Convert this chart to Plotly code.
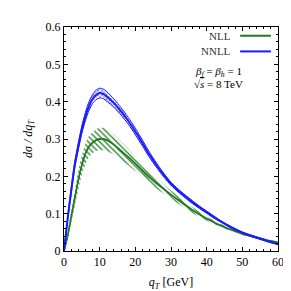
import plotly.graph_objects as go

q_t = [0, 1, 2, 3, 4, 5, 6, 7, 8, 9, 10, 11, 12, 14, 16, 18, 20, 22, 24, 26, 28,
       30, 32, 34, 36, 38, 40, 42, 44, 46, 48, 50, 52, 54, 56, 58, 60]

nll_central = [0, 0.04, 0.09, 0.14, 0.19, 0.23, 0.26, 0.28, 0.29, 0.297, 0.30, 0.30, 0.297,
               0.285, 0.268, 0.252, 0.234, 0.215, 0.197, 0.181, 0.166, 0.151, 0.137, 0.123,
               0.110, 0.098, 0.087, 0.077, 0.068, 0.060, 0.053, 0.046, 0.041, 0.036, 0.031,
               0.027, 0.023]
nll_lo = [0, 0.03, 0.075, 0.12, 0.165, 0.205, 0.232, 0.252, 0.262, 0.268, 0.27, 0.27, 0.268,
          0.258, 0.243, 0.23, 0.214, 0.197, 0.181, 0.167, 0.154, 0.140, 0.127, 0.114,
          0.102, 0.091, 0.081, 0.072, 0.064, 0.056, 0.050, 0.043, 0.038, 0.034, 0.029,
          0.025, 0.021]
nll_hi = [0, 0.05, 0.105, 0.16, 0.215, 0.255, 0.288, 0.308, 0.318, 0.326, 0.33, 0.33, 0.326,
          0.312, 0.293, 0.274, 0.254, 0.233, 0.213, 0.195, 0.178, 0.162, 0.147, 0.132,
          0.118, 0.105, 0.093, 0.082, 0.072, 0.064, 0.056, 0.049, 0.044, 0.038, 0.033,
          0.029, 0.025]

nnll_central = [0, 0.085, 0.16, 0.23, 0.28, 0.325, 0.36, 0.388, 0.407, 0.418, 0.423, 0.421, 0.414,
                0.396, 0.374, 0.349, 0.32, 0.289, 0.257, 0.229, 0.203, 0.180, 0.162, 0.146,
                0.131, 0.117, 0.104, 0.091, 0.079, 0.068, 0.058, 0.049, 0.042, 0.036, 0.030,
                0.024, 0.019]
nnll_lo = [0, 0.081, 0.153, 0.222, 0.271, 0.315, 0.349, 0.376, 0.395, 0.405, 0.410, 0.408, 0.401,
           0.385, 0.364, 0.340, 0.311, 0.281, 0.250, 0.223, 0.198, 0.176, 0.158, 0.142,
           0.127, 0.114, 0.101, 0.088, 0.077, 0.066, 0.056, 0.047, 0.040, 0.034, 0.028,
           0.022, 0.017]
nnll_hi = [0, 0.089, 0.167, 0.238, 0.289, 0.335, 0.371, 0.400, 0.419, 0.431, 0.436, 0.434, 0.427,
           0.407, 0.384, 0.358, 0.329, 0.297, 0.264, 0.235, 0.208, 0.184, 0.166, 0.150,
           0.135, 0.120, 0.107, 0.094, 0.081, 0.070, 0.060, 0.051, 0.044, 0.038, 0.032,
           0.026, 0.021]

GREEN = "#1f7a1f"
BLUE = "#1a1aff"
FONT = "Liberation Serif"

fig = go.Figure()

# NLL band (hatched)
fig.add_trace(go.Scatter(x=q_t, y=nll_lo, mode="lines", line=dict(width=0, shape="spline", smoothing=0.6),
                         showlegend=False, hoverinfo="skip"))
fig.add_trace(go.Scatter(x=q_t, y=nll_hi, mode="lines", line=dict(width=0, shape="spline", smoothing=0.6),
                         fill="tonexty", fillcolor="rgba(255,255,255,0)",
                         fillpattern=dict(shape="\\", fgcolor=GREEN, fgopacity=1,
                                          bgcolor="rgba(255,255,255,0)",
                                          size=4, solidity=0.3),
                         showlegend=False, hoverinfo="skip"))
# NNLL band (cross-hatched)
fig.add_trace(go.Scatter(x=q_t, y=nnll_lo, mode="lines",
                         line=dict(width=1, color=BLUE, shape="spline", smoothing=0.6),
                         showlegend=False, hoverinfo="skip"))
fig.add_trace(go.Scatter(x=q_t, y=nnll_hi, mode="lines",
                         line=dict(width=1, color=BLUE, shape="spline", smoothing=0.6),
                         fill="tonexty", fillcolor="rgba(255,255,255,0)",
                         fillpattern=dict(shape="x", fgcolor=BLUE, fgopacity=1,
                                          bgcolor="rgba(255,255,255,0)",
                                          size=3, solidity=0.3),
                         showlegend=False, hoverinfo="skip"))

fig.add_trace(go.Scatter(x=q_t, y=nll_central, mode="lines", name="NLL",
                         line=dict(color=GREEN, width=1.8, shape="spline", smoothing=0.6),
                         showlegend=False))
fig.add_trace(go.Scatter(x=q_t, y=nnll_central, mode="lines", name="NNLL",
                         line=dict(color=BLUE, width=2, shape="spline", smoothing=0.6),
                         showlegend=False))

axis_common = dict(
    showline=True, linecolor="black", linewidth=1, mirror="allticks",
    ticks="inside", ticklen=4, tickcolor="black", showgrid=False, zeroline=False,
    tickfont=dict(family=FONT, size=12, color="black"),
)

fig.update_xaxes(range=[0, 60], dtick=10, tick0=0,
                 minor=dict(ticks="inside", dtick=2, ticklen=2, tickcolor="black"),
                 title=dict(text="<i>q<sub>T</sub></i> [GeV]", font=dict(family=FONT, size=12, color="black"),
                            standoff=9),
                 **axis_common)
fig.update_yaxes(range=[0, 0.6], dtick=0.1, tick0=0,
                 minor=dict(ticks="inside", dtick=0.02, ticklen=2, tickcolor="black"),
                 title=dict(text="<i>dσ / dq<sub>T</sub></i>", font=dict(family=FONT, size=12, color="black"),
                            standoff=10),
                 **axis_common)

# legend drawn manually (text to the left of the line sample)
for label, color, yp in [("NLL", GREEN, 0.961), ("NNLL", BLUE, 0.891)]:
    fig.add_annotation(xref="paper", yref="paper", x=0.79, y=yp, text=label, showarrow=False,
                       xanchor="right", yanchor="middle",
                       font=dict(family=FONT, size=11, color="#333333"))
    fig.add_shape(type="line", xref="paper", yref="paper", x0=0.823, x1=0.967, y0=yp, y1=yp,
                  line=dict(color=color, width=2))

fig.add_annotation(xref="paper", yref="paper", x=0.72, y=0.80,
                   text="<i>β<sub>f</sub></i> = <i>β<sub>h</sub></i> = 1", showarrow=False,
                   xanchor="center", yanchor="middle",
                   font=dict(family=FONT, size=11, color="black"))
fig.add_annotation(xref="paper", yref="paper", x=0.72, y=0.745,
                   text="√<span style='text-decoration:overline'><i>s</i></span> = 8 TeV", showarrow=False,
                   xanchor="center", yanchor="middle",
                   font=dict(family=FONT, size=11, color="black"))

fig.update_layout(
    width=291, height=291,
    margin=dict(l=55.5, r=21, t=14, b=47),
    paper_bgcolor="white", plot_bgcolor="white",
    showlegend=False,
)

fig.write_html("out.html")
